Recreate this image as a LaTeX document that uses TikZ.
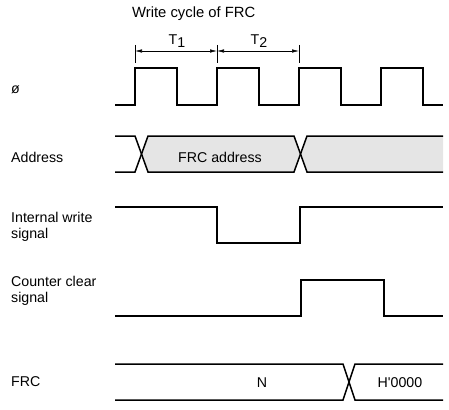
\documentclass[tikz,border=0pt]{standalone}
\usepackage{fontspec}
\setmainfont{Liberation Sans}[Ligatures=TeXOff]
\usetikzlibrary{arrows.meta}
\tikzset{
  wave/.style={line width=1.5pt, line join=miter},
  dimline/.style={line width=0.6pt},
  lbl/.style={anchor=west, align=left, inner sep=0pt, font=\fontsize{14.2}{16}\selectfont},
  txt/.style={inner sep=0pt, font=\fontsize{14.2}{16}\selectfont}
}
\begin{document}
\begin{tikzpicture}[x=1pt, y=-1pt]
\useasboundingbox (0,0) rectangle (449,409);
% labels on the left
\node[lbl] (phi) at (11,90) {ø};
\node[lbl] (addr) at (11,157) {Address};
\node[lbl] (iws) at (11,227) {Internal write\\signal};
\node[lbl] (ccs) at (11,291) {Counter clear\\signal};
\node[lbl] (frc) at (11,382) {FRC};
% write cycle and T1, T2
\node[txt, anchor=west, font=\fontsize{14.8}{16}\selectfont] (title) at (132,14) {Write cycle of FRC};
\draw[dimline] (135,45) -- (135,63);
\draw[dimline] (217,45) -- (217,63);
\draw[dimline] (299,45) -- (299,63);
\draw[dimline, {Latex[length=7pt,width=3.5pt]}-{Latex[length=7pt,width=3.5pt]}] (135,51) -- (217,51);
\draw[dimline, {Latex[length=7pt,width=3.5pt]}-{Latex[length=7pt,width=3.5pt]}] (217,51) -- (299,51);
\node[txt] (t1) at (177,41) {T\raisebox{-3pt}{1}};
\node[txt] (t2) at (259,41) {T\raisebox{-3pt}{2}};
% clock
\draw[wave] (115,105) -- (135,105) -- (135,68) -- (177,68) -- (177,105)
  -- (217,105) -- (217,68) -- (259,68) -- (259,105)
  -- (299,105) -- (299,68) -- (341,68) -- (341,105)
  -- (381,105) -- (381,68) -- (423,68) -- (423,105) -- (443,105);
% address bus
\fill[black!10] (142,154) -- (148,136) -- (294,136) -- (300,154) -- (294,172) -- (148,172) -- cycle;
\fill[black!10] (300,154) -- (307,136) -- (443,136) -- (443,172) -- (307,172) -- cycle;
\draw[wave] (115,136) -- (135,136) -- (148,172) -- (294,172) -- (307,136) -- (443,136);
\draw[wave] (115,172) -- (135,172) -- (148,136) -- (294,136) -- (307,172) -- (443,172);
\node[txt] (addrval) at (220,157) {FRC address};
% internal write signal
\draw[wave] (115,207) -- (217,207) -- (217,243) -- (300,243) -- (300,207) -- (443,207);
% counter clear signal
\draw[wave] (115,316) -- (301,316) -- (301,280) -- (384,280) -- (384,316) -- (443,316);
% FRC
\draw[wave] (115,364) -- (343,364) -- (355,400) -- (443,400);
\draw[wave] (115,400) -- (343,400) -- (355,364) -- (443,364);
\node[txt] (nval) at (262,383) {N};
\node[txt] (hval) at (400,383) {H'0000};
\end{tikzpicture}
\end{document}
